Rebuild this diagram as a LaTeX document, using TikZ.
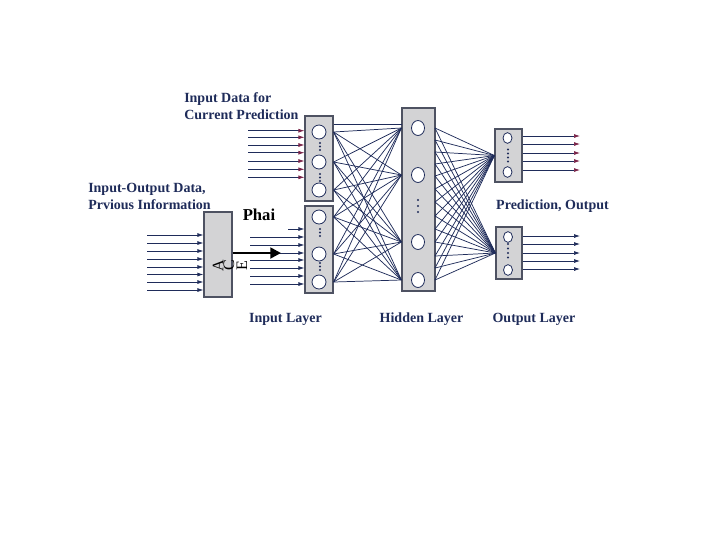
\documentclass[tikz,border=0pt]{standalone}
\usepackage{fontspec}
\setmainfont{Liberation Serif}
\usetikzlibrary{arrows.meta,shapes.geometric}
\definecolor{navy}{HTML}{1F2C5A}
\definecolor{maroon}{HTML}{7A2348}
\definecolor{boxfill}{HTML}{D3D3D5}
\definecolor{boxline}{HTML}{4E5262}
\begin{document}
\begin{tikzpicture}[x=0.75pt,y=-0.75pt,
  layerbox/.style={draw=boxline,fill=boxfill,line width=0.9pt,inner sep=0pt},
  neuron/.style={circle,draw=navy,fill=white,line width=0.6pt,minimum size=10.5pt,inner sep=0pt},
  hneuron/.style={ellipse,draw=navy,fill=white,line width=0.6pt,minimum width=9.75pt,minimum height=11.25pt,inner sep=0pt},
  oneuron/.style={ellipse,draw=navy,fill=white,line width=0.6pt,minimum width=6.75pt,minimum height=8pt,inner sep=0pt},
  wire/.style={draw=navy,line width=0.55pt},
  inarrow/.style={wire,-{Latex[length=4.5pt,width=3pt]}},
  redarrow/.style={wire,-{Latex[length=4.5pt,width=3pt,color=maroon]}},
  lbl/.style={text=navy,font=\fontsize{10.5}{12.75}\selectfont\bfseries,inner sep=0pt},
  acel/.style={font=\fontsize{12}{12}\selectfont,inner sep=0pt,rotate=90}
]
\useasboundingbox (0,0) rectangle (720,540);
\fill[white] (0,0) rectangle (720,540);

% boxes
\node[layerbox,minimum width=21pt,minimum height=63.75pt] (ub) at (319,158.5) {};
\node[layerbox,minimum width=21pt,minimum height=65.25pt] (lb) at (319,249.5) {};
\node[layerbox,minimum width=24.75pt,minimum height=137.25pt] (hb) at (418.5,199.5) {};
\node[layerbox,minimum width=20.25pt,minimum height=39.75pt] (ob1) at (508.5,155.5) {};
\node[layerbox,minimum width=19.5pt,minimum height=39pt] (ob2) at (509,253) {};
\node[layerbox,minimum width=21pt,minimum height=63.75pt] (pb) at (218,254.5) {};

% neuron positions
\coordinate (i1) at (319,132); \coordinate (i2) at (319,162); \coordinate (i3) at (319,190);
\coordinate (i4) at (319,217); \coordinate (i5) at (319,254); \coordinate (i6) at (319,282);
\coordinate (h1) at (418,128); \coordinate (h2) at (418,175); \coordinate (h3) at (418,242); \coordinate (h4) at (418,280);

% input -> hidden mesh
\foreach \s/\b in {i1/ub,i2/ub,i3/ub,i4/lb,i5/lb,i6/lb}
  \foreach \t in {h1,h2,h3,h4}
    \draw[wire] (\s -| \b.east) -- (\t -| hb.west);
\coordinate (topw) at (402,124);
\draw[wire] (ub.east |- topw) -- (topw);

% hidden -> output
\foreach \y [count=\k] in {128,140,152,164,176,189,202,216,229,242,256,268,280}{
  \coordinate (hr\k) at (435,\y);
  \draw[wire] (hr\k) -- (ob1.west);
  \draw[wire] (hr\k) -- (ob2.west);
}

% neurons
\node[neuron] (n1) at (i1) {}; \node[neuron] (n2) at (i2) {}; \node[neuron] (n3) at (i3) {};
\node[neuron] (n4) at (i4) {}; \node[neuron] (n5) at (i5) {}; \node[neuron] (n6) at (i6) {};
\node[hneuron] (m1) at (h1) {}; \node[hneuron] (m2) at (h2) {}; \node[hneuron] (m3) at (h3) {}; \node[hneuron] (m4) at (h4) {};
\node[oneuron] (o1) at (507.5,138) {}; \node[oneuron] (o2) at (507.5,172) {};
\node[oneuron] (o3) at (508,237) {}; \node[oneuron] (o4) at (508,270) {};

% dots
\foreach \x/\y in {320/143,320/146.5,320/150,320/174,320/177.5,320/181,
                   320/229,320/232.5,320/236,320/263,320/266.5,320/270,
                   418/200,418/206,418/212,
                   508/149.5,508/153.5,508/157.5,508/161.5,
                   508/244,508/248.5,508/253,508/257.5}
  \fill[navy] (\x,\y) circle[radius=1.2];

% upper input arrows
\foreach \y [count=\k] in {130.7,137.3,145,152.7,161,169.3,177.3}{
  \coordinate (ua\k) at (248,\y);
  \draw[redarrow] (ua\k) -- (ua\k -| ub.west);
}
% lower input arrows
\foreach \x/\y [count=\k] in {288/229,250/237,250/245,250/253,250/260,250/268,250/276,250/284}{
  \coordinate (la\k) at (\x,\y);
  \draw[inarrow] (la\k) -- (la\k -| lb.west);
}
% left arrows
\foreach \y [count=\k] in {235,243,251,259,267,274.5,282,290}{
  \coordinate (pa\k) at (147,\y);
  \draw[inarrow] (pa\k) -- (pa\k -| pb.west);
}
% output arrows
\foreach \y [count=\k] in {136,144,153,161,170}{
  \coordinate (oua\k) at (580,\y);
  \draw[redarrow] (oua\k -| ob1.east) -- (oua\k);
}
\foreach \y [count=\k] in {236,244,253,261,269}{
  \coordinate (ola\k) at (580,\y);
  \draw[inarrow] (ola\k -| ob2.east) -- (ola\k);
}

% big arrow
\coordinate (bigtip) at (281,253);
\draw[black,line width=2.2pt,-{Triangle[length=8pt,width=8pt]}] (pb.east |- bigtip) -- (bigtip);

% ACE
\node[acel] (aA) at (218,265.5) {A};
\node[acel] (aC) at (229,265.5) {C};
\node[acel] (aE) at (242,265.5) {E};

% labels
\node[lbl,align=left,anchor=west] (tin) at (184,106) {Input Data for\\Current Prediction};
\node[lbl,align=left,anchor=west] (tio) at (88,196.5) {Input-Output Data,\\Prvious Information};
\node[inner sep=0pt,font=\fontsize{12.5}{13}\selectfont\bfseries] (phai) at (259,215) {Phai};
\node[lbl] (tpo) at (552.5,206) {Prediction, Output};
\node[lbl] (til) at (285.5,319) {Input Layer};
\node[lbl] (thl) at (421.5,319) {Hidden Layer};
\node[lbl] (tol) at (534,319) {Output Layer};
\end{tikzpicture}
\end{document}
